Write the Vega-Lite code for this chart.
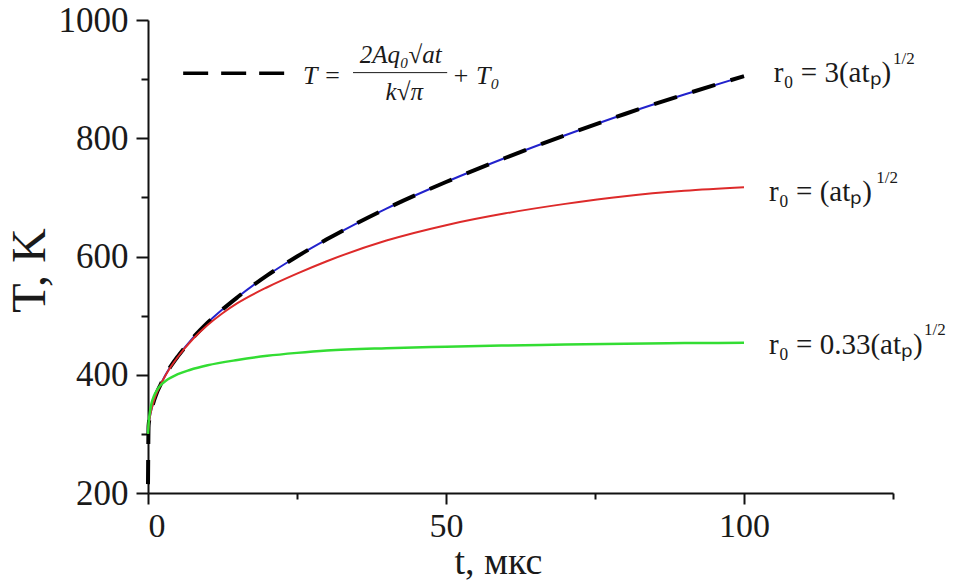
{
  "$schema": "https://vega.github.io/schema/vega-lite/v6.json",
  "width": 745,
  "height": 473,
  "autosize": "none",
  "padding": {"left": 148, "top": 20, "right": 63, "bottom": 93},
  "background": "white",
  "config": {
    "view": {"stroke": null},
    "text": {"font": "Liberation Serif", "color": "#1a1a1a"}
  },
  "datasets": {
    "curves": [
      {"s": "blue", "t": 0, "T": 300}, {"s": "blue", "t": 0.1, "T": 314}, {"s": "blue", "t": 0.3, "T": 328}, {"s": "blue", "t": 0.6, "T": 342}, {"s": "blue", "t": 1, "T": 356}, {"s": "blue", "t": 1.5, "T": 370}, {"s": "blue", "t": 2, "T": 381}, {"s": "blue", "t": 3, "T": 401}, {"s": "blue", "t": 4, "T": 417}, {"s": "blue", "t": 5, "T": 431}, {"s": "blue", "t": 7.5, "T": 462}, {"s": "blue", "t": 10, "T": 488}, {"s": "blue", "t": 15, "T": 531}, {"s": "blue", "t": 20, "T": 568}, {"s": "blue", "t": 25, "T": 600}, {"s": "blue", "t": 30, "T": 629}, {"s": "blue", "t": 40, "T": 681}, {"s": "blue", "t": 50, "T": 726}, {"s": "blue", "t": 60, "T": 767}, {"s": "blue", "t": 70, "T": 805}, {"s": "blue", "t": 80, "T": 841}, {"s": "blue", "t": 90, "T": 874}, {"s": "blue", "t": 100, "T": 905},
      {"s": "dash", "t": 0, "T": 215}, {"s": "dash", "t": 0.1, "T": 314}, {"s": "dash", "t": 0.3, "T": 328}, {"s": "dash", "t": 0.6, "T": 342}, {"s": "dash", "t": 1, "T": 356}, {"s": "dash", "t": 1.5, "T": 370}, {"s": "dash", "t": 2, "T": 381}, {"s": "dash", "t": 3, "T": 401}, {"s": "dash", "t": 4, "T": 417}, {"s": "dash", "t": 5, "T": 431}, {"s": "dash", "t": 7.5, "T": 462}, {"s": "dash", "t": 10, "T": 488}, {"s": "dash", "t": 15, "T": 531}, {"s": "dash", "t": 20, "T": 568}, {"s": "dash", "t": 25, "T": 600}, {"s": "dash", "t": 30, "T": 629}, {"s": "dash", "t": 40, "T": 681}, {"s": "dash", "t": 50, "T": 726}, {"s": "dash", "t": 60, "T": 767}, {"s": "dash", "t": 70, "T": 805}, {"s": "dash", "t": 80, "T": 841}, {"s": "dash", "t": 90, "T": 874}, {"s": "dash", "t": 100, "T": 905},
      {"s": "red", "t": 0, "T": 300}, {"s": "red", "t": 0.1, "T": 314}, {"s": "red", "t": 0.3, "T": 328}, {"s": "red", "t": 0.6, "T": 342}, {"s": "red", "t": 1, "T": 356}, {"s": "red", "t": 1.5, "T": 370}, {"s": "red", "t": 2, "T": 381}, {"s": "red", "t": 3, "T": 400}, {"s": "red", "t": 4, "T": 416}, {"s": "red", "t": 5, "T": 430}, {"s": "red", "t": 7.5, "T": 460}, {"s": "red", "t": 10, "T": 484}, {"s": "red", "t": 12.5, "T": 504}, {"s": "red", "t": 15, "T": 521}, {"s": "red", "t": 20, "T": 548}, {"s": "red", "t": 25, "T": 571}, {"s": "red", "t": 30, "T": 592}, {"s": "red", "t": 40, "T": 627}, {"s": "red", "t": 50, "T": 653}, {"s": "red", "t": 60, "T": 673}, {"s": "red", "t": 70, "T": 689}, {"s": "red", "t": 80, "T": 702}, {"s": "red", "t": 90, "T": 711}, {"s": "red", "t": 100, "T": 717},
      {"s": "green", "t": 0, "T": 300}, {"s": "green", "t": 0.1, "T": 318}, {"s": "green", "t": 0.3, "T": 335}, {"s": "green", "t": 0.6, "T": 352}, {"s": "green", "t": 1, "T": 364}, {"s": "green", "t": 1.5, "T": 374}, {"s": "green", "t": 2, "T": 381}, {"s": "green", "t": 3, "T": 390}, {"s": "green", "t": 4, "T": 396}, {"s": "green", "t": 5, "T": 401}, {"s": "green", "t": 7, "T": 408}, {"s": "green", "t": 10, "T": 416}, {"s": "green", "t": 15, "T": 425}, {"s": "green", "t": 20, "T": 432}, {"s": "green", "t": 25, "T": 437}, {"s": "green", "t": 30, "T": 441}, {"s": "green", "t": 40, "T": 445}, {"s": "green", "t": 50, "T": 447.5}, {"s": "green", "t": 60, "T": 449.5}, {"s": "green", "t": 70, "T": 451}, {"s": "green", "t": 80, "T": 452.5}, {"s": "green", "t": 90, "T": 453.5}, {"s": "green", "t": 100, "T": 454}
    ]
  },
  "encoding": {
    "x": {
      "field": "t", "type": "quantitative",
      "scale": {"domain": [0, 125], "nice": false, "zero": false},
      "axis": {
        "title": "t, мкс",
        "values": [0, 25, 50, 75, 100, 125],
        "format": "d",
        "labelExpr": "datum.value % 50 === 0 ? datum.label : ''",
        "grid": false,
        "domainColor": "#111", "domainWidth": 2,
        "tickColor": "#111", "tickWidth": 2,
        "tickSize": {"condition": {"test": "datum.value % 50 === 0", "value": 11}, "value": 6},
        "labelFont": "Liberation Serif", "labelFontSize": 34, "labelColor": "#1a1a1a", "labelPadding": 5,
        "titleFont": "Liberation Serif", "titleFontSize": 38, "titleFontWeight": "normal", "titleColor": "#1a1a1a",
        "titlePadding": 0, "titleX": 350, "titleAnchor": "middle"
      }
    },
    "y": {
      "field": "T", "type": "quantitative",
      "scale": {"domain": [200, 1000], "nice": false, "zero": false},
      "axis": {
        "title": "T, K",
        "values": [200, 300, 400, 500, 600, 700, 800, 900, 1000],
        "format": "d",
        "labelExpr": "datum.value % 200 === 0 ? datum.label : ''",
        "grid": false,
        "domainColor": "#111", "domainWidth": 2,
        "tickColor": "#111", "tickWidth": 2,
        "tickSize": {"condition": {"test": "datum.value % 200 === 0", "value": 12}, "value": 7},
        "labelFont": "Liberation Serif", "labelFontSize": 35, "labelColor": "#1a1a1a", "labelPadding": 8,
        "titleFont": "Liberation Serif", "titleFontSize": 48, "titleFontWeight": "normal", "titleColor": "#1a1a1a",
        "titlePadding": 4, "titleY": 250
      }
    }
  },
  "layer": [
    {
      "data": {"name": "curves"},
      "transform": [{"filter": "datum.s === 'blue'"}],
      "mark": {"type": "line", "color": "#2222cc", "strokeWidth": 2, "interpolate": "monotone"}
    },
    {
      "data": {"name": "curves"},
      "transform": [{"filter": "datum.s === 'dash'"}],
      "mark": {"type": "line", "color": "#000000", "strokeWidth": 4, "strokeDash": [24, 16], "interpolate": "monotone"}
    },
    {
      "data": {"name": "curves"},
      "transform": [{"filter": "datum.s === 'red'"}],
      "mark": {"type": "line", "color": "#dd2a2a", "strokeWidth": 2, "interpolate": "monotone"}
    },
    {
      "data": {"name": "curves"},
      "transform": [{"filter": "datum.s === 'green'"}],
      "mark": {"type": "line", "color": "#33dd33", "strokeWidth": 2.5, "interpolate": "monotone"}
    },
    {
      "data": {"values": [{"t": 5.9, "t2": 23.9, "T": 910}]},
      "mark": {"type": "rule", "color": "#000000", "strokeWidth": 3.5, "strokeDash": [25, 13]},
      "encoding": {"x2": {"field": "t2"}}
    },
    {
      "data": {"values": [{"t": 34.4, "t2": 50.2, "T": 911}]},
      "mark": {"type": "rule", "color": "#1a1a1a", "strokeWidth": 1},
      "encoding": {"x2": {"field": "t2"}}
    },
    {
      "data": {"values": [
        {"t": 26.0, "T": 906, "label": "T ="},
        {"t": 51.0, "T": 906, "label": "+ T₀"}
      ]},
      "mark": {"type": "text", "align": "left", "baseline": "middle", "fontSize": 26, "fontStyle": "italic"},
      "encoding": {"text": {"field": "label"}}
    },
    {
      "data": {"values": [
        {"t": 42.4, "T": 940, "label": "2Aq₀√at"},
        {"t": 43.0, "T": 878, "label": "k√π"}
      ]},
      "mark": {"type": "text", "align": "center", "baseline": "middle", "fontSize": 25, "fontStyle": "italic"},
      "encoding": {"text": {"field": "label"}}
    },
    {
      "data": {"values": [
        {"t": 105, "T": 910, "label": "r₀ = 3(atₚ)"},
        {"t": 104.2, "T": 709, "label": "r₀ = (atₚ)"},
        {"t": 104.2, "T": 450, "label": "r₀ = 0.33(atₚ)"}
      ]},
      "mark": {"type": "text", "align": "left", "baseline": "middle", "fontSize": 29},
      "encoding": {"text": {"field": "label"}}
    },
    {
      "data": {"values": [
        {"t": 125.0, "T": 934, "label": "1/2"},
        {"t": 122.2, "T": 733, "label": "1/2"},
        {"t": 130.2, "T": 475, "label": "1/2"}
      ]},
      "mark": {"type": "text", "align": "left", "baseline": "middle", "fontSize": 17},
      "encoding": {"text": {"field": "label"}}
    }
  ]
}
